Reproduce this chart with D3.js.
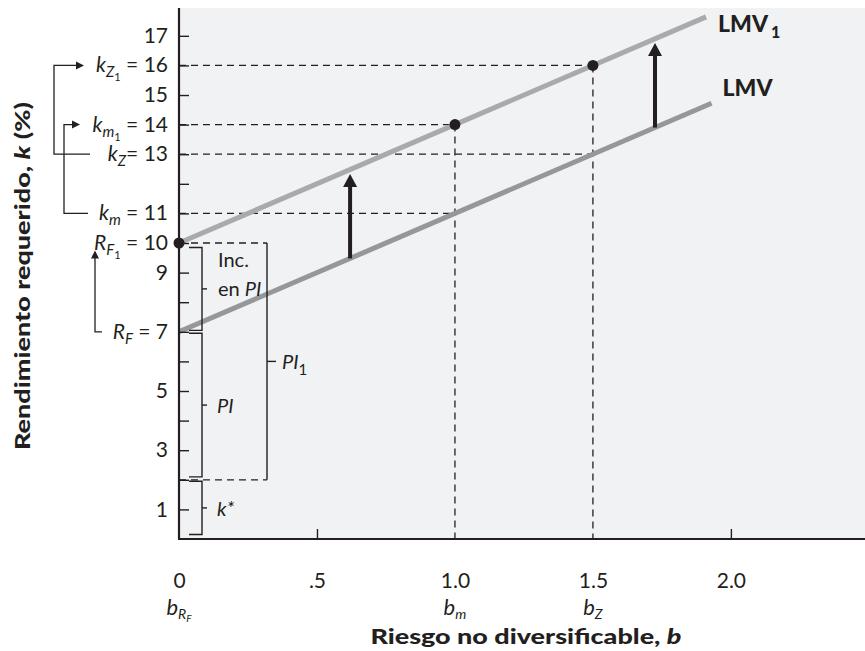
<!DOCTYPE html>
<html><head><meta charset="utf-8">
<script src="https://cdn.jsdelivr.net/npm/d3@7"></script>
<style>
body{margin:0;background:#fff;}
text{font-family:Lato,"Open Sans",sans-serif;fill:#231f20;}
</style></head>
<body>
<svg id="c" width="865" height="651"></svg>
<script>
// ---- data ----
const yTickValues = [1,2,3,4,5,6,7,8,9,10,11,12,13,14,15,16,17];
const yPlainLabels = [1,3,5,9,15,17];
const xTickValues = [0,0.5,1.0,1.5,2.0];
const xTickLabels = ["0",".5","1.0","1.5","2.0"];
const lmvB = [0, 1.93];
const lmvK = [7, 14.72];
const lmv1B = [0, 1.91];
const lmv1K = [10, 17.64];
const pointsB = [0, 1.0, 1.5];
const pointsK = [10, 14, 16];
const arrowB = [0.62, 1.725];
const arrowFromK = [9.48, 13.9];
const arrowToK = [12.33, 16.76];
// dashed guides: [b, k] corners
const guideK = [16, 14, 13, 11];
const guideB = [1.5, 1.0, 1.5, 1.0];
const bracketNames = ["incPI","PI","kstar"];
const bracketLo = [7.05, 2.1, 0.15];
const bracketHi = [9.85, 6.95, 1.95];
const pi1Lo = 2, pi1Hi = 10;

const svg = d3.select("#c");
const x = d3.scaleLinear().domain([0, 2.486]).range([179, 865]);
const y = d3.scaleLinear().domain([0, 17.94]).range([539, 8]);
const ink = "#231f20";

// background
svg.append("rect").attr("x", x(0)).attr("y", y(17.94))
  .attr("width", x(2.486)-x(0)).attr("height", y(0)-y(17.94)).attr("fill", "#f1f2f4");

// dashed guides
const dash = "7,5";
const g = svg.append("g").attr("stroke", ink).attr("stroke-width", 1.3).attr("stroke-dasharray", dash).attr("fill","none");
guideK.forEach((k,i)=>{
  g.append("line").attr("x1", x(0)).attr("x2", x(guideB[i])).attr("y1", y(k)).attr("y2", y(k));
});
g.append("line").attr("x1", x(1.0)).attr("x2", x(1.0)).attr("y1", y(14)).attr("y2", y(0));
g.append("line").attr("x1", x(1.5)).attr("x2", x(1.5)).attr("y1", y(16)).attr("y2", y(0));
// PI1 bracket dashed edges
const pi1X = x(0)+88;
g.append("line").attr("x1", x(0)).attr("x2", pi1X).attr("y1", y(pi1Hi)).attr("y2", y(pi1Hi));
g.append("line").attr("x1", x(0)).attr("x2", pi1X).attr("y1", y(pi1Lo)).attr("y2", y(pi1Lo));

// lines
const line = d3.line().x(d=>x(d[0])).y(d=>y(d[1]));
svg.append("path").datum(lmvB.map((b,i)=>[b,lmvK[i]])).attr("d", line)
  .attr("stroke", "#959799").attr("stroke-width", 5).attr("fill","none");
svg.append("path").datum(lmv1B.map((b,i)=>[b,lmv1K[i]])).attr("d", line)
  .attr("stroke", "#a8aaad").attr("stroke-width", 5).attr("fill","none");

// brackets
const br = svg.append("g").attr("stroke", ink).attr("stroke-width", 1.4).attr("fill","none");
const bx0 = x(0)+10, bx1 = x(0)+23;
bracketNames.forEach((n,i)=>{
  const y0 = y(bracketHi[i]), y1 = y(bracketLo[i]);
  br.append("path").attr("d", `M${bx0},${y0}H${bx1}V${y1}H${bx0}`);
  const ym = y((bracketHi[i]+bracketLo[i])/2);
  br.append("line").attr("x1", bx1).attr("x2", bx1+5).attr("y1", ym).attr("y2", ym);
});
br.append("line").attr("x1", pi1X).attr("x2", pi1X).attr("y1", y(pi1Hi)).attr("y2", y(pi1Lo));
br.append("line").attr("x1", pi1X).attr("x2", pi1X+9).attr("y1", y((pi1Hi+pi1Lo)/2)).attr("y2", y((pi1Hi+pi1Lo)/2));

// bracket labels
const lab = svg.append("g").attr("font-size", 20);
lab.append("text").attr("x", bx1+16).attr("y", y(8.45)-22).text("Inc.");
const enPI = lab.append("text").attr("x", bx1+16).attr("y", y(8.45)+7);
enPI.append("tspan").text("en ");
enPI.append("tspan").attr("font-style","italic").text("PI");
lab.append("text").attr("x", bx1+15).attr("y", y(4.525)+8).attr("font-style","italic").text("PI");
const ks = lab.append("text").attr("x", bx1+15).attr("y", y(1.05)+8).attr("font-style","italic");
ks.append("tspan").text("k");
ks.append("tspan").attr("dy",-1).text("*");
const p1 = lab.append("text").attr("x", pi1X+15).attr("y", y(6)+8);
p1.append("tspan").attr("font-style","italic").text("PI");
p1.append("tspan").attr("font-size",15).attr("dy",6).text("1");

// axes
const ya = d3.axisLeft(y).tickValues(yTickValues).tickSizeInner(-10).tickSizeOuter(0).tickPadding(11)
  .tickFormat(d => yPlainLabels.includes(d) ? d : "");
const yg = svg.append("g").attr("transform", `translate(${x(0)},0)`).call(ya);
const xa = d3.axisBottom(x).tickValues(xTickValues).tickSizeInner(-10).tickSizeOuter(0).tickPadding(34)
  .tickFormat((d,i) => xTickLabels[i]);
const xg = svg.append("g").attr("transform", `translate(0,${y(0)})`).call(xa);
[yg, xg].forEach(a=>{
  a.select(".domain").attr("stroke", ink).attr("stroke-width", 2.2);
  a.selectAll(".tick line").attr("stroke", ink).attr("stroke-width", 1.4);
  a.selectAll("text").attr("font-family","Lato").attr("font-size", 21).attr("fill", ink);
});
xg.selectAll(".tick").filter(d => d===1.0 || d===1.5 || d===0).select("line").remove();
yg.select(".domain").attr("d", `M0,${y(0)}V${y(17.94)}`);
xg.select(".domain").attr("d", `M${x(0)-1},0H${x(2.486)}`);

// special y labels
function kLabel(val, main, sub, subsub, rest){
  const t = svg.append("text").attr("x", x(0)-11).attr("y", y(val)+7).attr("text-anchor","end").attr("font-size",21);
  t.append("tspan").attr("font-style","italic").text(main);
  t.append("tspan").attr("font-style","italic").attr("font-size",15).attr("dy",5).text(sub);
  let back = 5;
  if (subsub){ t.append("tspan").attr("font-size",11).attr("dy",4).text(subsub); back = 9; }
  t.append("tspan").attr("dy",-back).text(rest);
}
kLabel(16, "k", "Z", "1", " = 16");
kLabel(14, "k", "m", "1", " = 14");
kLabel(13, "k", "Z", null, "= 13");
kLabel(11, "k", "m", null, " = 11");
kLabel(10, "R", "F", "1", " = 10");
kLabel(7, "R", "F", null, " = 7");

// little connector arrows on the left
const ca = svg.append("g").attr("stroke", ink).attr("stroke-width", 1.3).attr("fill","none");
function headRight(xt, yy){ svg.append("path").attr("d", `M${xt},${yy}l-8,-4v8z`).attr("fill", ink); }
function headUp(xx, yt){ svg.append("path").attr("d", `M${xx},${yt}l-4,8h8z`).attr("fill", ink); }
ca.append("path").attr("d", `M90,${y(13)}H54V${y(16)}H78`); headRight(84, y(16));
ca.append("path").attr("d", `M88,${y(11)}H64V${y(14)}H74`); headRight(80, y(14));
ca.append("path").attr("d", `M102,${y(7)}H95V${y(9.5)}`); headUp(95, y(9.75));

// dots
svg.selectAll("circle.pt").data(pointsB).join("circle").attr("class","pt")
  .attr("cx", d=>x(d)).attr("cy", (d,i)=>y(pointsK[i])).attr("r", 5.5).attr("fill", ink);

// shift arrows
arrowB.forEach((b,i)=>{
  const xx = x(b), yTip = y(arrowToK[i]), yBase = y(arrowFromK[i]);
  svg.append("line").attr("x1", xx).attr("x2", xx).attr("y1", yBase).attr("y2", yTip+10)
    .attr("stroke", ink).attr("stroke-width", 4);
  svg.append("path").attr("d", `M${xx},${yTip}l-7,13h14z`).attr("fill", ink);
});

// LMV labels
const l1 = svg.append("text").attr("x", x(lmv1B[1])+12).attr("y", y(lmv1K[1])+15).attr("font-size",23).attr("font-weight","900");
l1.append("tspan").attr("textLength",50).attr("lengthAdjust","spacingAndGlyphs").text("LMV");
l1.append("tspan").attr("font-size",16).attr("dy",6).attr("dx",3).text("1");
svg.append("text").attr("x", x(lmvB[1])+11).attr("y", y(lmvK[1])-7).attr("font-size",23).attr("font-weight","900")
  .attr("textLength",50).attr("lengthAdjust","spacingAndGlyphs").text("LMV");

// x-axis b labels
function bLabel(b, sub, subsub){
  const t = svg.append("text").attr("x", x(b)).attr("y", 615).attr("text-anchor","middle").attr("font-size",22).attr("font-style","italic");
  t.append("tspan").text("b");
  t.append("tspan").attr("font-size",14).attr("dy",4).text(sub);
  if (subsub) t.append("tspan").attr("font-size",10).attr("dy",3).text(subsub);
}
bLabel(0, "R", "F");
bLabel(1.0, "m");
bLabel(1.5, "Z");

// titles
const xt = svg.append("text").attr("x", 526).attr("y", 644).attr("text-anchor","middle").attr("font-size",20).attr("font-weight","900")
  .attr("textLength",311).attr("lengthAdjust","spacingAndGlyphs");
xt.append("tspan").text("Riesgo no diversificable, ");
xt.append("tspan").attr("font-style","italic").text("b");
const yt = svg.append("text").attr("transform","translate(30,276) rotate(-90)").attr("text-anchor","middle").attr("font-size",21).attr("font-weight","900")
  .attr("textLength",348).attr("lengthAdjust","spacingAndGlyphs");
yt.append("tspan").text("Rendimiento requerido, ");
yt.append("tspan").attr("font-style","italic").text("k");
yt.append("tspan").text(" (%)");
</script>
</body></html>
